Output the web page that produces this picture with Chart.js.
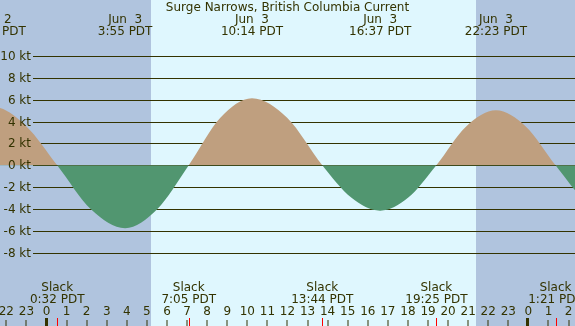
<!DOCTYPE html>
<html>
<head>
<meta charset="utf-8">
<script src="https://cdn.jsdelivr.net/npm/chart.js@4/dist/chart.umd.min.js"></script>
<style>
html,body{margin:0;padding:0;background:#b0c4de;}
#wrap{width:575px;height:326px;position:relative;}
canvas{display:block;}
</style>
</head>
<body>
<div id="wrap"><canvas id="c" width="575" height="326"></canvas></div>
<script>
// ---- data (hours since midnight Jun 3, PDT) ----
const titleText = 'Surge Narrows, British Columbia Current';
const curveHours = [-5.70, -4.14, -2.583, -1.025, 0.533, 2.225, 3.917, 5.50, 7.083, 8.658, 10.233, 11.983, 13.733, 15.175, 16.617, 18.017, 19.417, 20.90, 22.383, 23.867, 25.35, 26.975, 28.60];
const curveKnots = [0, 3.75, 5.30, 3.60, 0, -4.05, -5.75, -4.05, 0, 4.35, 6.13, 4.35, 0, -2.95, -4.15, -2.95, 0, 3.55, 5.03, 3.55, 0, -3.55, -5.00];
const peakHours = [-2.583, 3.917, 10.233, 16.617, 22.383];
const peakDates = ['Jun  2', 'Jun  3', 'Jun  3', 'Jun  3', 'Jun  3'];
const peakTimes = ['21:25 PDT', '3:55 PDT', '10:14 PDT', '16:37 PDT', '22:23 PDT'];
const slackHours = [0.533, 7.083, 13.733, 19.417, 25.35];
const slackTimes = ['0:32 PDT', '7:05 PDT', '13:44 PDT', '19:25 PDT', '1:21 PDT'];
const sunriseHour = 5.20;
const sunsetHour = 21.39;
const yTicks = [10, 8, 6, 4, 2, 0, -2, -4, -6, -8];
const yTickLabels = ['10 kt', '8 kt', '6 kt', '4 kt', '2 kt', '0 kt', '-2 kt', '-4 kt', '-6 kt', '-8 kt'];
const hourTicks = [-2,-1,0,1,2,3,4,5,6,7,8,9,10,11,12,13,14,15,16,17,18,19,20,21,22,23,24,25,26];
const hourLabels = ['22','23','0','1','2','3','4','5','6','7','8','9','10','11','12','13','14','15','16','17','18','19','20','21','22','23','0','1','2'];
const dayBoundaries = [0, 24];

// ---- styles ----
const NIGHT = '#b0c4de';
const DAY = '#dff7fe';
const FLOOD = '#bf9f7f';
const EBB = '#519670';
const INK = '#333300';
const FONT = '12px "DejaVu Sans", sans-serif';

const pts = curveHours.map((h, i) => ({x: h, y: curveKnots[i]}));

const deco = {
  id: 'deco',
  beforeDraw(chart) {
    const ctx = chart.ctx, xs = chart.scales.x;
    const W = chart.width, H = chart.height;
    ctx.save();
    ctx.fillStyle = NIGHT;
    ctx.fillRect(0, 0, W, H);
    const x1 = Math.round(xs.getPixelForValue(sunriseHour));
    const x2 = Math.round(xs.getPixelForValue(sunsetHour));
    ctx.fillStyle = DAY;
    ctx.fillRect(x1, 0, x2 - x1, H);
    ctx.restore();
  },
  beforeDatasetsDraw(chart) {
    const ctx = chart.ctx, ys = chart.scales.y;
    ctx.save();
    ctx.strokeStyle = INK;
    ctx.lineWidth = 1;
    yTicks.forEach(v => {
      const y = Math.round(ys.getPixelForValue(v)) + 0.5;
      ctx.beginPath();
      ctx.moveTo(33, y);
      ctx.lineTo(chart.width, y);
      ctx.stroke();
    });
    ctx.restore();
  },
  afterDraw(chart) {
    const ctx = chart.ctx, xs = chart.scales.x, ys = chart.scales.y;
    ctx.save();
    ctx.fillStyle = INK;
    ctx.font = FONT;
    ctx.textBaseline = 'middle';
    ctx.textAlign = 'right';
    yTicks.forEach((v, i) => {
      ctx.fillText(yTickLabels[i], 31, Math.round(ys.getPixelForValue(v)) + 0.5);
    });
    ctx.textAlign = 'center';
    ctx.fillText(titleText, chart.width / 2, 7.5);
    peakHours.forEach((h, i) => {
      const x = xs.getPixelForValue(h);
      ctx.fillText(peakDates[i], x, 19.5);
      ctx.fillText(peakTimes[i], x, 31.5);
    });
    slackHours.forEach((h, i) => {
      const x = xs.getPixelForValue(h);
      ctx.fillText('Slack', x, 287.5);
      ctx.fillText(slackTimes[i], x, 299.5);
    });
    hourTicks.forEach((h, i) => {
      const x = xs.getPixelForValue(h);
      ctx.fillText(hourLabels[i], x, 311.5);
      ctx.fillRect(Math.round(x) - 0.5, 320, 1, 6);
    });
    dayBoundaries.forEach(h => {
      const x = xs.getPixelForValue(h);
      ctx.fillRect(Math.round(x) - 2, 318, 3, 8);
    });
    ctx.fillStyle = '#ff0000';
    slackHours.forEach(h => {
      const x = xs.getPixelForValue(h);
      ctx.fillRect(Math.round(x), 318, 1, 8);
    });
    ctx.restore();
  }
};

new Chart(document.getElementById('c'), {
  type: 'line',
  data: {
    datasets: [{
      data: pts,
      borderWidth: 0,
      borderColor: 'rgba(0,0,0,0)',
      pointRadius: 0,
      cubicInterpolationMode: 'monotone',
      fill: {target: 'origin', above: FLOOD, below: EBB}
    }]
  },
  options: {
    responsive: false,
    animation: false,
    devicePixelRatio: 1,
    layout: {padding: 0},
    plugins: {legend: {display: false}, tooltip: {enabled: false}, title: {display: false}},
    scales: {
      x: {type: 'linear', display: false, min: -2.316, max: 26.32},
      y: {type: 'linear', display: false, min: -14.70, max: 15.12}
    }
  },
  plugins: [deco]
});
</script>
</body>
</html>
